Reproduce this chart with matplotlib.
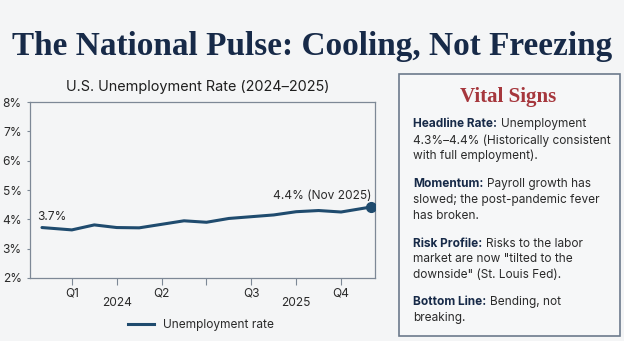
import matplotlib
matplotlib.use('Agg')
import matplotlib.pyplot as plt
from matplotlib.lines import Line2D
from matplotlib.patches import Rectangle
from matplotlib.transforms import blended_transform_factory

# ---------------- data ----------------
months = [0, 2, 3.5, 5, 6.5, 8, 9.5, 11, 12.5, 14, 15.5, 17, 18.5, 20, 22]
rate = [3.72, 3.64, 3.81, 3.72, 3.71, 3.83, 3.95, 3.90, 4.03, 4.09, 4.15, 4.26, 4.30, 4.25, 4.42]
tick_months = [2, 5, 8, 11, 14, 17, 20]
tick_labels = ['Q1', '', 'Q2', '', 'Q3', '', 'Q4']
year_months = [5, 17]
year_labels = ['2024', '2025']
y_ticks = [2, 3, 4, 5, 6, 7, 8]
start_label = '3.7%'
end_label = '4.4% (Nov 2025)'
series_name = 'Unemployment rate'

title = 'The National Pulse: Cooling, Not Freezing'
chart_title = 'U.S. Unemployment Rate (2024\u20132025)'
box_title = 'Vital Signs'
box_blocks = [
    ('Headline Rate:', ['Unemployment', '4.3%\u20134.4% (Historically consistent', 'with full employment).']),
    ('Momentum:', ['Payroll growth has', 'slowed; the post-pandemic fever', 'has broken.']),
    ('Risk Profile:', ['Risks to the labor', 'market are now "tilted to the', 'downside" (St. Louis Fed).']),
    ('Bottom Line:', ['Bending, not', 'breaking.']),
]

# ---------------- style ----------------
BG = '#f4f5f6'
LINE = '#1f4b6e'
NAVY = '#172a48'
RED = '#a6373d'
TXT = '#2a2a2a'
GRID = '#7d8896'
SANS = ['Inter', 'DejaVu Sans']
SERIF = ['Liberation Serif', 'DejaVu Serif']

W, H = 624, 341
fig = plt.figure(figsize=(W / 100, H / 100), dpi=100, facecolor=BG)


def fx(x):
    return x / W


def fy(y):
    return 1 - y / H


renderer = fig.canvas.get_renderer()


def fit(t, width_px):
    w = t.get_window_extent(renderer).width
    t.set_fontsize(t.get_fontsize() * width_px / w)


# main title
t = fig.text(fx(312.5), fy(55.5), title, ha='center', va='baseline', family=SERIF,
             weight='bold', color=NAVY, fontsize=26)
fit(t, 601)

# chart axes
ax = fig.add_axes([fx(30), fy(278), (375 - 30) / W, (278 - 102) / H])
ax.set_facecolor(BG)
ax.plot(months, rate, color=LINE, lw=2.2, solid_joinstyle='round', solid_capstyle='round', zorder=3)
ax.plot(months[-1], rate[-1], 'o', ms=7, color=LINE, zorder=4)
ax.set_xlim(-0.8, 22.27)
ax.set_ylim(2, 8)
ax.set_yticks(y_ticks)
ax.set_yticklabels([f'{v}%' for v in y_ticks], family=SANS, fontsize=8.6, color=TXT)
ax.set_xticks(tick_months)
ax.set_xticklabels(tick_labels, family=SANS, fontsize=8.6, color=TXT)
ax.tick_params(axis='y', length=2, pad=4, color=GRID, width=0.8)
ax.tick_params(axis='x', length=5, pad=2, color=GRID, width=0.8)
for s in ax.spines.values():
    s.set_color(GRID)
    s.set_linewidth(0.9)

trans = blended_transform_factory(ax.transData, fig.transFigure)
for m, lab in zip(year_months, year_labels):
    fig.text(m, fy(302.5), lab, transform=trans, ha='center', va='center',
             family=SANS, fontsize=8.6, color=TXT)

ax.annotate(start_label, (months[0], rate[0]), xytext=(-5, 11), textcoords='offset pixels',
            ha='left', va='center', family=SANS, fontsize=8.6, color=TXT)
ax.annotate(end_label, (months[-1], rate[-1]), xytext=(1, 11), textcoords='offset pixels',
            ha='right', va='center', family=SANS, fontsize=8.6, color=TXT)

ct = fig.text(fx(197.5), fy(87), chart_title, ha='center', va='center', family=SANS,
              fontsize=10, color='#1e1e1e')
fit(ct, 265)

handle = Line2D([], [], color=LINE, lw=2.2)
leg = fig.legend([handle], [series_name], loc='center', bbox_to_anchor=(fx(201), fy(325)),
                 frameon=False, handlelength=2.2, handletextpad=0.8,
                 prop={'family': SANS, 'size': 8.6})
for tx in leg.get_texts():
    tx.set_color(TXT)

# side box
fig.patches.append(Rectangle((fx(399), fy(336)), (620 - 399) / W, (336 - 74) / H,
                             transform=fig.transFigure, facecolor='#f6f7f8',
                             edgecolor='#6c7a8c', lw=1.2))
vt = fig.text(fx(508), fy(102), box_title, ha='center', va='baseline', family=SERIF,
              weight='bold', color=RED, fontsize=15)
fit(vt, 97)

body_size = 8
probe = fig.text(0, 0, box_blocks[0][1][1], family=SANS, fontsize=body_size)
body_size = body_size * 198 / probe.get_window_extent(renderer).width
probe.remove()

x0 = 413
baselines = [[127.3, 143.7, 159.5], [187.3, 202.8, 218.8], [246.7, 262.3, 277.9], [305, 320.7]]
for (bold, lines), bls in zip(box_blocks, baselines):
    for i, (line, b) in enumerate(zip(lines, bls)):
        if i == 0:
            bt = fig.text(fx(x0), fy(b), bold, ha='left', va='baseline', family=SANS,
                          weight='bold', fontsize=body_size, color=NAVY)
            bw = bt.get_window_extent(renderer).width
            fig.text(fx(x0 + bw + 3.5), fy(b), line, ha='left', va='baseline', family=SANS,
                     fontsize=body_size, color=TXT)
        else:
            fig.text(fx(x0), fy(b), line, ha='left', va='baseline', family=SANS,
                     fontsize=body_size, color=TXT)

fig.savefig('out.png', dpi=100, facecolor=BG)
